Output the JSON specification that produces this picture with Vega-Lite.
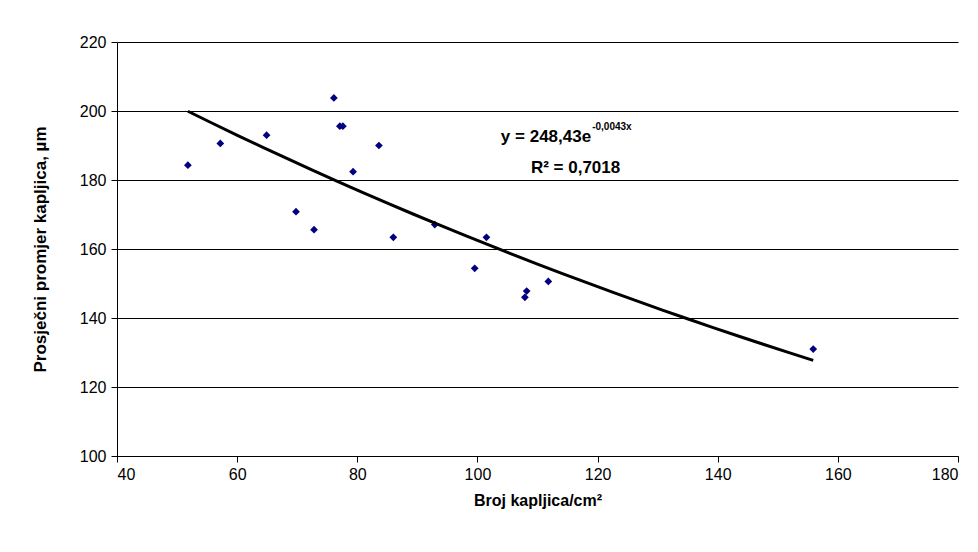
{
  "$schema": "https://vega.github.io/schema/vega-lite/v6.json",
  "width": 841,
  "height": 414,
  "autosize": {"type": "none"},
  "padding": {"left": 117, "top": 42, "right": 20, "bottom": 96},
  "background": "white",
  "config": {
    "font": "Liberation Sans",
    "view": {"stroke": null},
    "axis": {
      "labelFont": "Liberation Sans",
      "labelFontSize": 16,
      "labelColor": "black",
      "titleFont": "Liberation Sans",
      "titleFontSize": 16,
      "titleFontWeight": "bold",
      "titleColor": "black",
      "domainColor": "black",
      "tickColor": "black",
      "gridColor": "black",
      "gridOpacity": 1,
      "tickSize": 6
    }
  },
  "data": {
    "values": [
      {"x": 51.8, "y": 184.3},
      {"x": 57.2, "y": 190.6},
      {"x": 64.9, "y": 193.0},
      {"x": 69.8, "y": 170.8},
      {"x": 72.8, "y": 165.6},
      {"x": 76.1, "y": 203.8},
      {"x": 77.1, "y": 195.6},
      {"x": 77.6, "y": 195.6},
      {"x": 79.3, "y": 182.4},
      {"x": 83.6, "y": 190.0},
      {"x": 86.0, "y": 163.4},
      {"x": 92.9, "y": 167.1},
      {"x": 99.55, "y": 154.4},
      {"x": 101.5, "y": 163.4},
      {"x": 107.9, "y": 146.0},
      {"x": 108.2, "y": 147.8},
      {"x": 111.8, "y": 150.6},
      {"x": 155.9, "y": 131.0}
    ]
  },
  "layer": [
    {
      "mark": {"type": "point", "shape": "diamond", "filled": true, "color": "#000080", "size": 60, "opacity": 1},
      "encoding": {
        "x": {
          "field": "x", "type": "quantitative",
          "scale": {"domain": [40, 180], "nice": false, "zero": false},
          "axis": {
            "values": [40, 60, 80, 100, 120, 140, 160, 180],
            "grid": false,
            "title": "Broj kapljica/cm²",
            "labelPadding": 4,
            "titlePadding": 10
          }
        },
        "y": {
          "field": "y", "type": "quantitative",
          "scale": {"domain": [100, 220], "nice": false, "zero": false},
          "axis": {
            "values": [100, 120, 140, 160, 180, 200, 220],
            "grid": true,
            "title": "Prosječni promjer kapljica,  µm",
            "titleFontSize": 17,
            "labelPadding": 5,
            "titlePadding": 30
          }
        }
      }
    },
    {
      "transform": [
        {"regression": "y", "on": "x", "method": "exp", "extent": [51.8, 155.9]}
      ],
      "mark": {"type": "line", "color": "black", "strokeWidth": 3},
      "encoding": {
        "x": {"field": "x", "type": "quantitative"},
        "y": {"field": "y", "type": "quantitative"}
      }
    },
    {
      "data": {"values": [{}]},
      "mark": {"type": "text", "align": "left", "baseline": "middle", "fontSize": 17, "fontWeight": "bold", "font": "Liberation Sans", "color": "black"},
      "encoding": {
        "x": {"datum": 103.9},
        "y": {"datum": 192.5},
        "text": {"value": "y = 248,43e"}
      }
    },
    {
      "data": {"values": [{}]},
      "mark": {"type": "text", "align": "left", "baseline": "middle", "fontSize": 10, "fontWeight": "bold", "font": "Liberation Sans", "color": "black"},
      "encoding": {
        "x": {"datum": 119.1},
        "y": {"datum": 195.3},
        "text": {"value": "-0,0043x"}
      }
    },
    {
      "data": {"values": [{}]},
      "mark": {"type": "text", "align": "left", "baseline": "middle", "fontSize": 17, "fontWeight": "bold", "font": "Liberation Sans", "color": "black"},
      "encoding": {
        "x": {"datum": 108.9},
        "y": {"datum": 183.5},
        "text": {"value": "R² = 0,7018"}
      }
    }
  ]
}
